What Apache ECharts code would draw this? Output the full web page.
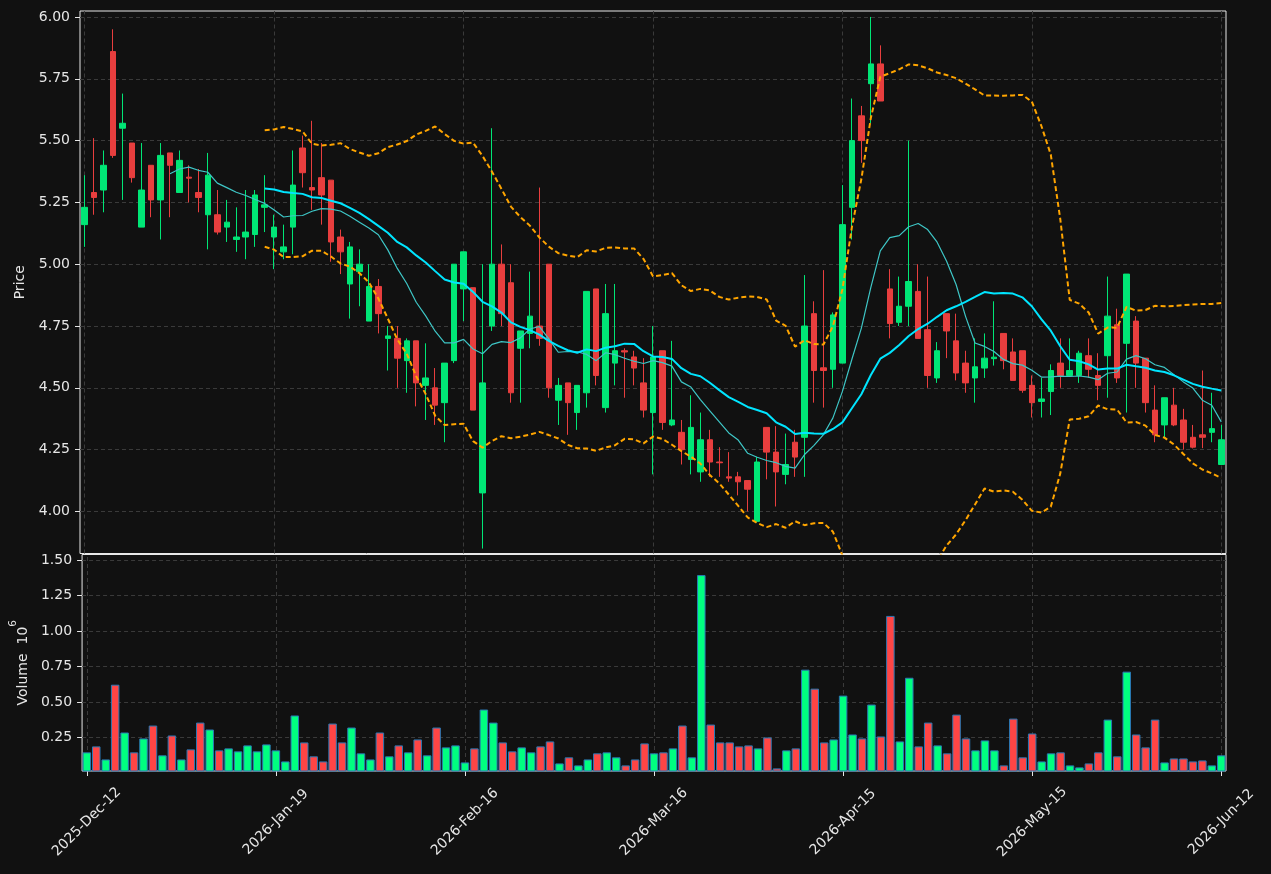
<!DOCTYPE html>
<html><head><meta charset="utf-8">
<script src="https://cdn.jsdelivr.net/npm/echarts@6/dist/echarts.min.js"></script>
<style>html,body{margin:0;padding:0;background:#111111;}#c{width:1271px;height:874px;}</style>
</head><body><div id="c"></div>
<script>
// ---------- data ----------
const tickLabels = ['2025-Dec-12','2026-Jan-19','2026-Feb-16','2026-Mar-16','2026-Apr-15','2026-May-15','2026-Jun-12'];
const opens = [5.16,5.29,5.30,5.86,5.55,5.49,5.15,5.40,5.26,5.45,5.29,5.352,5.29,5.20,5.20,5.15,5.10,5.11,5.12,5.23,
 5.11,5.05,5.15,5.47,5.31,5.35,5.34,5.11,4.92,4.97,4.77,4.91,4.70,4.70,4.61,4.69,4.51,4.50,4.44,4.61,
 4.90,4.905,4.075,4.75,5.00,4.925,4.66,4.72,4.75,5.00,4.45,4.52,4.40,4.48,4.90,4.42,4.60,4.65,4.625,4.52,
 4.40,4.65,4.35,4.32,4.21,4.16,4.29,4.20,4.14,4.14,4.125,3.96,4.34,4.24,4.15,4.28,4.30,4.80,4.581,4.575,
 4.60,5.23,5.60,5.73,5.81,4.90,4.765,4.83,4.89,4.735,4.54,4.80,4.69,4.60,4.54,4.58,4.618,4.72,4.645,4.65,
 4.51,4.445,4.485,4.60,4.55,4.55,4.63,4.55,4.63,4.755,4.68,4.77,4.62,4.41,4.35,4.43,4.37,4.30,4.31,4.32,4.19];
const highs = [5.36,5.51,5.46,5.95,5.69,5.49,5.49,5.40,5.49,5.45,5.46,5.40,5.385,5.45,5.30,5.26,5.23,5.30,5.30,5.36,
 5.20,5.16,5.46,5.52,5.58,5.49,5.34,5.14,5.09,5.06,5.00,4.94,4.75,4.75,4.70,4.69,4.68,4.58,4.60,5.00,
 5.05,4.905,5.00,5.55,5.08,5.00,4.73,4.97,5.31,5.00,4.54,4.52,4.51,4.89,4.90,4.92,4.92,4.66,4.65,4.62,
 4.75,4.65,4.69,4.37,4.47,4.40,4.33,4.26,4.24,4.16,4.125,4.22,4.34,4.345,4.315,4.33,4.956,4.85,4.976,4.805,
 5.32,5.67,5.64,6.00,5.885,4.98,4.95,5.50,5.00,4.95,4.685,4.80,4.80,4.65,4.70,4.72,4.85,4.72,4.70,4.65,
 4.55,4.54,4.595,4.70,4.70,4.65,4.70,4.64,4.95,4.82,4.96,4.79,4.62,4.51,4.46,4.50,4.415,4.35,4.57,4.48,4.35];
const lows = [5.07,5.20,5.21,5.43,5.26,5.33,5.15,5.19,5.10,5.19,5.29,5.25,5.21,5.06,5.12,5.09,5.05,5.02,5.07,5.13,
 4.98,5.02,5.04,5.31,5.22,5.16,5.01,4.96,4.78,4.83,4.77,4.72,4.57,4.50,4.48,4.425,4.37,4.35,4.28,4.60,
 4.77,4.41,3.85,4.73,4.75,4.44,4.44,4.66,4.67,4.46,4.35,4.31,4.33,4.42,4.51,4.40,4.51,4.46,4.51,4.38,
 4.15,4.33,4.345,4.19,4.15,4.12,4.14,4.14,4.12,4.065,4.00,3.955,4.13,4.02,4.11,4.14,4.14,4.44,4.42,4.50,
 4.60,5.10,5.41,5.57,5.66,4.70,4.75,4.75,4.70,4.50,4.52,4.62,4.53,4.48,4.44,4.54,4.59,4.575,4.53,4.48,
 4.38,4.38,4.39,4.50,4.55,4.52,4.54,4.45,4.46,4.52,4.40,4.50,4.40,4.28,4.30,4.345,4.25,4.255,4.256,4.28,4.19];
const closes = [5.23,5.27,5.40,5.44,5.57,5.35,5.30,5.26,5.44,5.40,5.42,5.348,5.27,5.36,5.13,5.17,5.11,5.13,5.28,5.24,
 5.15,5.07,5.32,5.37,5.30,5.28,5.09,5.05,5.07,5.00,4.91,4.80,4.71,4.62,4.69,4.52,4.54,4.43,4.60,5.00,
 5.05,4.41,4.52,5.00,4.80,4.48,4.73,4.79,4.70,4.50,4.51,4.44,4.51,4.89,4.55,4.80,4.65,4.645,4.58,4.41,
 4.625,4.36,4.37,4.25,4.34,4.29,4.20,4.197,4.135,4.12,4.09,4.20,4.24,4.16,4.19,4.22,4.75,4.57,4.570,4.795,
 5.16,5.50,5.50,5.81,5.66,4.76,4.83,4.93,4.70,4.55,4.65,4.73,4.56,4.52,4.585,4.62,4.624,4.61,4.53,4.49,
 4.44,4.455,4.57,4.55,4.57,4.64,4.575,4.51,4.79,4.54,4.96,4.60,4.44,4.31,4.46,4.35,4.28,4.26,4.30,4.335,4.29];
const volumes = [0.145,0.187,0.095,0.622,0.285,0.145,0.243,0.334,0.124,0.264,0.095,0.166,0.355,0.306,0.159,0.173,0.152,0.194,0.152,0.201,
 0.159,0.081,0.405,0.215,0.117,0.081,0.348,0.215,0.320,0.138,0.095,0.285,0.117,0.194,0.145,0.236,0.124,0.320,0.180,0.194,
 0.074,0.173,0.447,0.355,0.215,0.152,0.180,0.145,0.187,0.222,0.067,0.110,0.053,0.095,0.138,0.145,0.110,0.053,0.095,0.208,
 0.138,0.145,0.173,0.334,0.110,1.395,0.341,0.215,0.215,0.187,0.194,0.173,0.250,0.032,0.159,0.173,0.728,0.594,0.215,0.236,
 0.545,0.271,0.243,0.482,0.257,1.107,0.222,0.671,0.187,0.355,0.194,0.138,0.411,0.243,0.159,0.229,0.159,0.053,0.383,0.110,
 0.278,0.081,0.138,0.145,0.053,0.039,0.067,0.145,0.376,0.117,0.714,0.271,0.180,0.376,0.074,0.102,0.102,0.081,0.088,0.053,0.124];
const priceTicks = [4.00,4.25,4.50,4.75,5.00,5.25,5.50,5.75,6.00];
const volumeTicks = [0.25,0.50,0.75,1.00,1.25,1.50];
const labelStep = 20;

// ---------- indicators derived from the closes ----------
function rollingMean(arr, n) {
  return arr.map((_, i) => i < n - 1 ? '-' : arr.slice(i - n + 1, i + 1).reduce((a, b) => a + b, 0) / n);
}
function rollingStd(arr, n) {
  return arr.map((_, i) => {
    if (i < n - 1) return '-';
    const w = arr.slice(i - n + 1, i + 1);
    const m = w.reduce((a, b) => a + b, 0) / n;
    return Math.sqrt(w.reduce((a, b) => a + (b - m) * (b - m), 0) / n);
  });
}
const ma10 = rollingMean(closes, 10);
const ma20 = rollingMean(closes, 20);
const sd20 = rollingStd(closes, 20);
const bbUpper = ma20.map((m, i) => m === '-' ? '-' : m + 2 * sd20[i]);
const bbLower = ma20.map((m, i) => m === '-' ? '-' : m - 2 * sd20[i]);

const cats = closes.map((_, i) => String(i));
const candleData = opens.map((o, i) => [o, closes[i], lows[i], highs[i]]);
const UP = '#00e676', DOWN = '#e83e3e', VUP = '#00ff80', VDOWN = '#ff4545';
const volData = volumes.map((v, i) => ({
  value: v,
  itemStyle: { color: closes[i] >= opens[i] ? VUP : VDOWN }
}));
const labelIdx = cats.map((_, i) => i).filter(i => i % labelStep === 0);

const TXT = '#e6e6e6', GRIDC = '#3a3a3a', FONT = 'DejaVu Sans';
const vGrid = {
  silent: true, symbol: ['none', 'none'], label: { show: false }, z: 1,
  lineStyle: { color: GRIDC, type: [4, 3], width: 1 },
  data: labelIdx.map(i => ({ xAxis: i }))
};

const chart = echarts.init(document.getElementById('c'), null, { renderer: 'canvas' });
chart.setOption({
  backgroundColor: '#111111',
  animation: false,
  textStyle: { fontFamily: FONT },
  grid: [
    { left: 80, right: 45, top: 11, bottom: 320.5, show: true, borderColor: '#e8e8e8', borderWidth: 1, backgroundColor: 'transparent' },
    { left: 80, right: 45, top: 554.5, bottom: 103, show: true, borderColor: '#e8e8e8', borderWidth: 1, backgroundColor: 'transparent' }
  ],
  xAxis: [
    { type: 'category', gridIndex: 0, data: cats, boundaryGap: true,
      axisLine: { show: false }, axisTick: { show: false }, axisLabel: { show: false }, splitLine: { show: false } },
    { type: 'category', gridIndex: 1, data: cats, boundaryGap: true,
      axisLine: { show: false },
      axisTick: { show: true, alignWithLabel: true, length: 5, interval: (i) => i % labelStep === 0, lineStyle: { color: TXT } },
      axisLabel: { show: true, interval: (i) => i % labelStep === 0, rotate: 45, align: 'center', verticalAlign: 'middle',
        margin: 51, color: TXT, fontSize: 14, fontFamily: FONT,
        formatter: (v, i) => (Number(v) % labelStep === 0 ? tickLabels[Number(v) / labelStep] : '') },
      splitLine: { show: false } }
  ],
  yAxis: [
    { type: 'value', gridIndex: 0, min: 3.83, max: 6.024, scale: true,
      name: 'Price', nameLocation: 'middle', nameRotate: 90, nameGap: 53,
      nameTextStyle: { color: TXT, fontSize: 14, fontFamily: FONT },
      axisLine: { show: false },
      axisTick: { show: true, inside: false, length: 5, customValues: priceTicks, lineStyle: { color: TXT } },
      axisLabel: { color: TXT, fontSize: 14, fontFamily: FONT, margin: 10, customValues: priceTicks, formatter: v => v.toFixed(2) },
      splitLine: { show: true, lineStyle: { color: GRIDC, type: [4, 3], width: 1 } } },
    { type: 'value', gridIndex: 1, min: 0.0135, max: 1.54,
      name: '{a|Volume  10}{b|6}', nameLocation: 'middle', nameRotate: 90, nameGap: 51,
      nameTextStyle: { color: TXT, fontSize: 14, fontFamily: FONT,
        rich: {
          a: { color: TXT, fontSize: 14, fontFamily: FONT, lineHeight: 22, verticalAlign: 'bottom' },
          b: { color: TXT, fontSize: 10.5, fontFamily: FONT, lineHeight: 12, verticalAlign: 'top' }
        } },
      axisLine: { show: false },
      axisTick: { show: true, inside: false, length: 5, customValues: volumeTicks, lineStyle: { color: TXT } },
      axisLabel: { color: TXT, fontSize: 14, fontFamily: FONT, margin: 10, customValues: volumeTicks, formatter: v => v.toFixed(2) },
      splitLine: { show: true, lineStyle: { color: GRIDC, type: [4, 3], width: 1 } } }
  ],
  series: [
    { type: 'candlestick', name: 'OHLC', xAxisIndex: 0, yAxisIndex: 0, data: candleData, barWidth: 6,
      itemStyle: { color: UP, color0: DOWN, borderColor: UP, borderColor0: DOWN, borderWidth: 1 },
      markLine: vGrid },
    { type: 'line', name: 'MA10', xAxisIndex: 0, yAxisIndex: 0, data: ma10, showSymbol: false, symbol: 'none',
      lineStyle: { color: '#3ec6c6', width: 1.2 }, z: 3 },
    { type: 'line', name: 'MA20', xAxisIndex: 0, yAxisIndex: 0, data: ma20, showSymbol: false, symbol: 'none',
      lineStyle: { color: '#00e5ff', width: 2 }, z: 3 },
    { type: 'line', name: 'BB upper', xAxisIndex: 0, yAxisIndex: 0, data: bbUpper, showSymbol: false, symbol: 'none',
      lineStyle: { color: '#ffa500', width: 2, type: [5, 3] }, z: 3 },
    { type: 'line', name: 'BB lower', xAxisIndex: 0, yAxisIndex: 0, data: bbLower, showSymbol: false, symbol: 'none',
      lineStyle: { color: '#ffa500', width: 2, type: [5, 3] }, z: 3 },
    { type: 'bar', name: 'Volume', xAxisIndex: 1, yAxisIndex: 1, data: volData, barWidth: 8.5,
      itemStyle: { borderColor: '#2a78b4', borderWidth: 1 },
      markLine: vGrid }
  ]
});
</script>
</body></html>
